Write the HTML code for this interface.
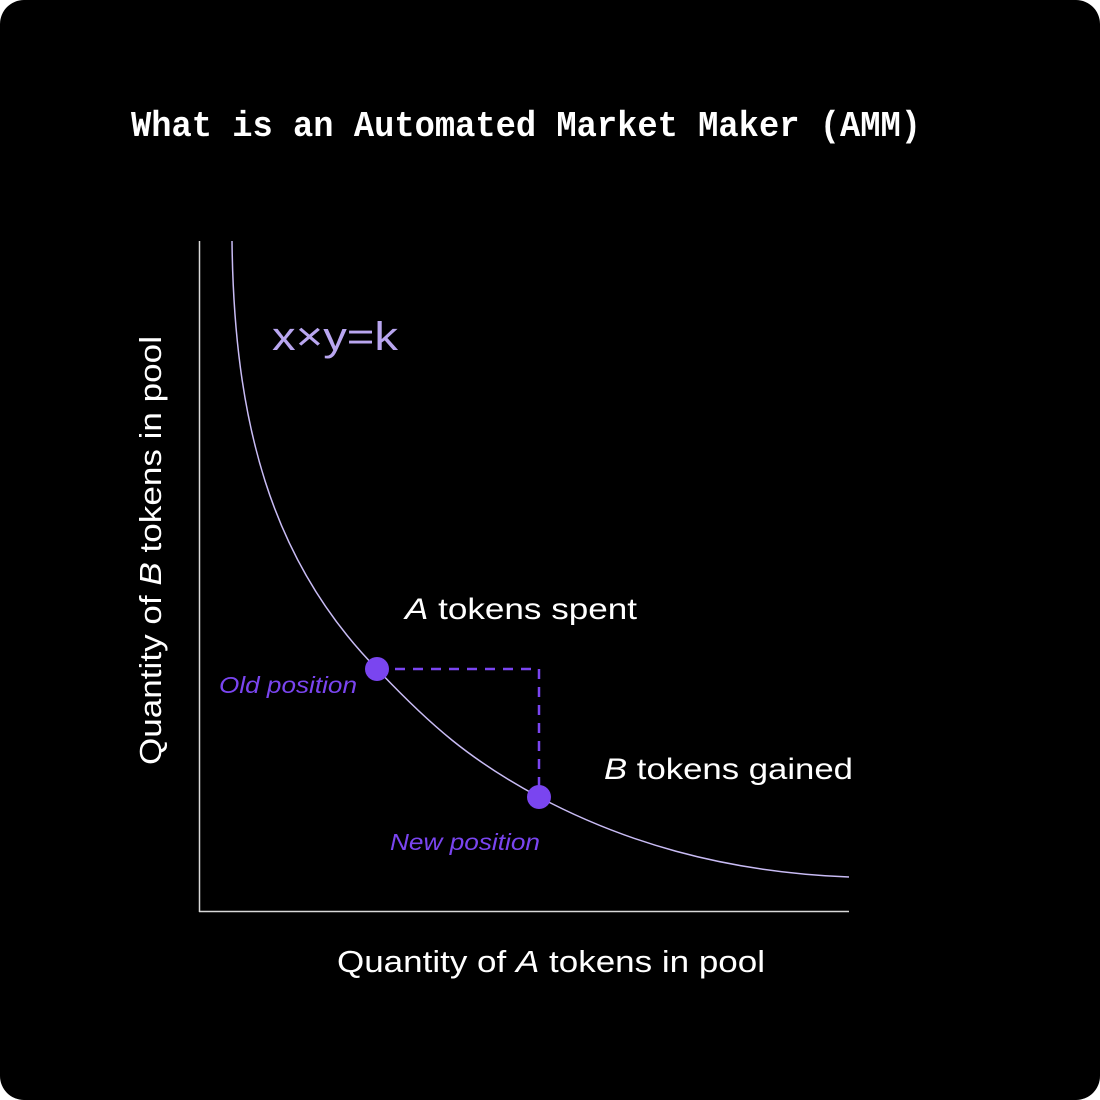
<!DOCTYPE html>
<html><head><meta charset="utf-8"><style>
html,body{margin:0;padding:0;background:#fff;}
svg{display:block}
</style></head><body>
<svg width="1100" height="1100" viewBox="0 0 1100 1100" xmlns="http://www.w3.org/2000/svg">
<rect x="0" y="0" width="1100" height="1100" rx="24" fill="#000"/>
<text x="131" y="136" font-family="Liberation Mono, monospace" font-weight="bold" font-size="36" fill="#fff" textLength="790" lengthAdjust="spacingAndGlyphs">What is an Automated Market Maker (AMM)</text>
<line x1="199.5" y1="241" x2="199.5" y2="912" stroke="#d8d8d8" stroke-width="1.5"/>
<line x1="199" y1="911.5" x2="849" y2="911.5" stroke="#d8d8d8" stroke-width="1.5"/>
<path d="M232,241 C234,420 270,560 377,669 C430,725 470,760 539,797 C620,840 720,872 849,877" fill="none" stroke="#c9bcf5" stroke-width="1.5"/>
<path d="M377,669 H539 V797" fill="none" stroke="#7a45f0" stroke-width="2.5" stroke-dasharray="10 8"/>
<circle cx="377" cy="669" r="12" fill="#7a45f0"/>
<circle cx="539" cy="797" r="12" fill="#7a45f0"/>
<text x="272" y="350" font-family="Liberation Sans, sans-serif" font-size="40" fill="#b9a6f0" textLength="126" lengthAdjust="spacingAndGlyphs">x×y=k</text>
<text x="405" y="619" font-family="Liberation Sans, sans-serif" font-size="30" fill="#fff" textLength="232" lengthAdjust="spacingAndGlyphs"><tspan font-style="italic">A</tspan> tokens spent</text>
<text x="604" y="779" font-family="Liberation Sans, sans-serif" font-size="30" fill="#fff" textLength="249" lengthAdjust="spacingAndGlyphs"><tspan font-style="italic">B</tspan> tokens gained</text>
<text x="219" y="693" font-family="Liberation Sans, sans-serif" font-style="italic" font-size="23" fill="#7a45f0" textLength="138" lengthAdjust="spacingAndGlyphs">Old position</text>
<text x="390" y="850" font-family="Liberation Sans, sans-serif" font-style="italic" font-size="23" fill="#7a45f0" textLength="150" lengthAdjust="spacingAndGlyphs">New position</text>
<text x="337" y="972" font-family="Liberation Sans, sans-serif" font-size="31" fill="#fff" textLength="428" lengthAdjust="spacingAndGlyphs">Quantity of <tspan font-style="italic">A</tspan> tokens in pool</text>
<text transform="translate(161,765) rotate(-90)" x="0" y="0" font-family="Liberation Sans, sans-serif" font-size="31" fill="#fff" textLength="429" lengthAdjust="spacingAndGlyphs">Quantity of <tspan font-style="italic">B</tspan> tokens in pool</text>
</svg>
</body></html>
